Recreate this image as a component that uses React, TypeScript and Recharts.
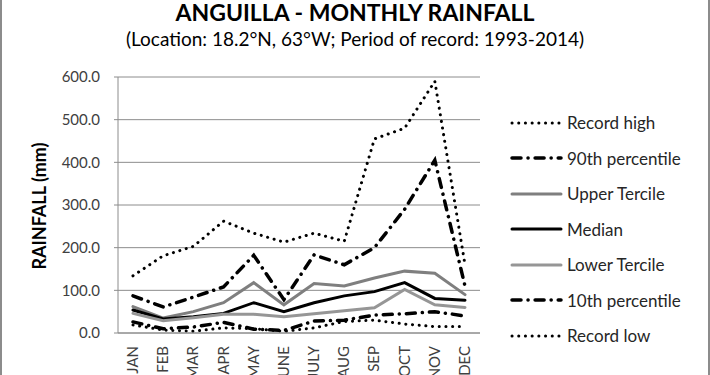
import React from "react";
import { CartesianGrid, Line, LineChart, XAxis, YAxis } from "recharts";

const months = ["JAN", "FEB", "MAR", "APR", "MAY", "JUNE", "JULY", "AUG", "SEP", "OCT", "NOV", "DEC"];
const recordHigh = [134, 181, 203, 262, 234, 213, 234, 215, 455, 480, 590, 160];
const pct90 = [87, 61, 84, 108, 182, 78, 183, 160, 200, 290, 405, 110];
const upperTercile = [62, 35, 50, 71, 118, 66, 116, 110, 129, 145, 140, 90];
const median = [54, 33, 38, 46, 71, 50, 71, 87, 97, 118, 81, 77];
const lowerTercile = [46, 29, 36, 44, 44, 38, 45, 52, 59, 102, 66, 60];
const pct10 = [26, 10, 14, 25, 9, 6, 28, 30, 42, 45, 50, 40];
const recordLow = [19, 7, 4, 12, 10, 4, 12, 27, 30, 21, 15, 15];
const yTicks = [0, 100, 200, 300, 400, 500, 600];

const data = months.map((m, i) => ({
  month: m,
  recordHigh: recordHigh[i],
  pct90: pct90[i],
  upperTercile: upperTercile[i],
  median: median[i],
  lowerTercile: lowerTercile[i],
  pct10: pct10[i],
  recordLow: recordLow[i],
}));

const FONT = "Lato, 'Open Sans', sans-serif";
const DOTTED = "0.1 6.6";
const DASH_DOT = "9 7 0.1 7";

const series = [
  { key: "recordHigh", name: "Record high", color: "#000", width: 3, dash: DOTTED },
  { key: "pct90", name: "90th percentile", color: "#000", width: 3.5, dash: DASH_DOT },
  { key: "upperTercile", name: "Upper Tercile", color: "#7f7f7f", width: 3, dash: undefined },
  { key: "median", name: "Median", color: "#000", width: 3, dash: undefined },
  { key: "lowerTercile", name: "Lower Tercile", color: "#969696", width: 3, dash: undefined },
  { key: "pct10", name: "10th percentile", color: "#000", width: 3.5, dash: DASH_DOT },
  { key: "recordLow", name: "Record low", color: "#000", width: 3, dash: DOTTED },
];

const MonthTick = (props: any) => {
  const { x, y, payload } = props;
  return (
    <text
      x={0}
      y={0}
      transform={`translate(${x + 5},${y + 5}) rotate(-90)`}
      textAnchor="end"
      fontSize={15}
      fontFamily={FONT}
      fill="#404040"
    >
      {payload.value}
    </text>
  );
};

export default function App() {
  return (
    <div
      style={{
        position: "absolute",
        left: 0,
        top: 0,
        width: 710,
        height: 375,
        background: "#fff",
        overflow: "hidden",
        fontFamily: FONT,
        boxSizing: "border-box",
        borderLeft: "2px solid #8c8c8c",
        borderRight: "2px solid #8c8c8c",
      }}
    >
      <div
        style={{
          position: "absolute",
          left: 0,
          width: 706,
          top: -2,
          textAlign: "center",
          fontWeight: 700,
          fontSize: 23,
          color: "#000",
        }}
      >
        ANGUILLA - MONTHLY RAINFALL
      </div>
      <div
        style={{
          position: "absolute",
          left: 0,
          width: 706,
          top: 27,
          textAlign: "center",
          fontSize: 19,
          color: "#000",
        }}
      >
        (Location: 18.2°N, 63°W; Period of record: 1993-2014)
      </div>
      <div
        style={{
          position: "absolute",
          left: 37,
          top: 206,
          transform: "translate(-50%, -50%) rotate(-90deg)",
          whiteSpace: "nowrap",
          fontWeight: 700,
          fontSize: 18,
          color: "#000",
        }}
      >
        RAINFALL (mm)
      </div>
      <div style={{ position: "absolute", left: -2, top: 0 }}>
        <LineChart width={710} height={375} data={data} margin={{ top: 77, right: 230, bottom: 0, left: 0 }}>
          <CartesianGrid vertical={false} stroke="#8c8c8c" />
          <XAxis
            dataKey="month"
            height={42}
            interval={0}
            padding={{ left: 15, right: 15 }}
            tickLine={false}
            axisLine={{ stroke: "#8c8c8c" }}
            tick={<MonthTick />}
          />
          <YAxis
            width={118}
            domain={[0, 600]}
            ticks={yTicks}
            tickFormatter={(v: number) => v.toFixed(1)}
            tickLine={{ stroke: "#8c8c8c" }}
            tickSize={4}
            tickMargin={14}
            axisLine={{ stroke: "#8c8c8c" }}
            tick={{ fontSize: 15, fontFamily: FONT, fill: "#404040" }}
          />
          {series.map((s) => (
            <Line
              key={s.key}
              type="linear"
              dataKey={s.key}
              name={s.name}
              stroke={s.color}
              strokeWidth={s.width}
              strokeDasharray={s.dash}
              strokeLinecap="round"
              dot={false}
              activeDot={false}
              isAnimationActive={false}
            />
          ))}
        </LineChart>
      </div>
      <div style={{ position: "absolute", left: 506, top: 105 }}>
        {series.map((s) => (
          <div key={s.key} style={{ display: "flex", alignItems: "center", height: 35.5 }}>
            <svg width={56} height={10} style={{ marginRight: 3 }}>
              <line
                x1={4}
                y1={5}
                x2={53}
                y2={5}
                stroke={s.color}
                strokeWidth={s.width}
                strokeDasharray={s.dash}
                strokeLinecap="round"
              />
            </svg>
            <span style={{ fontSize: 17, color: "#262626" }}>{s.name}</span>
          </div>
        ))}
      </div>
    </div>
  );
}
